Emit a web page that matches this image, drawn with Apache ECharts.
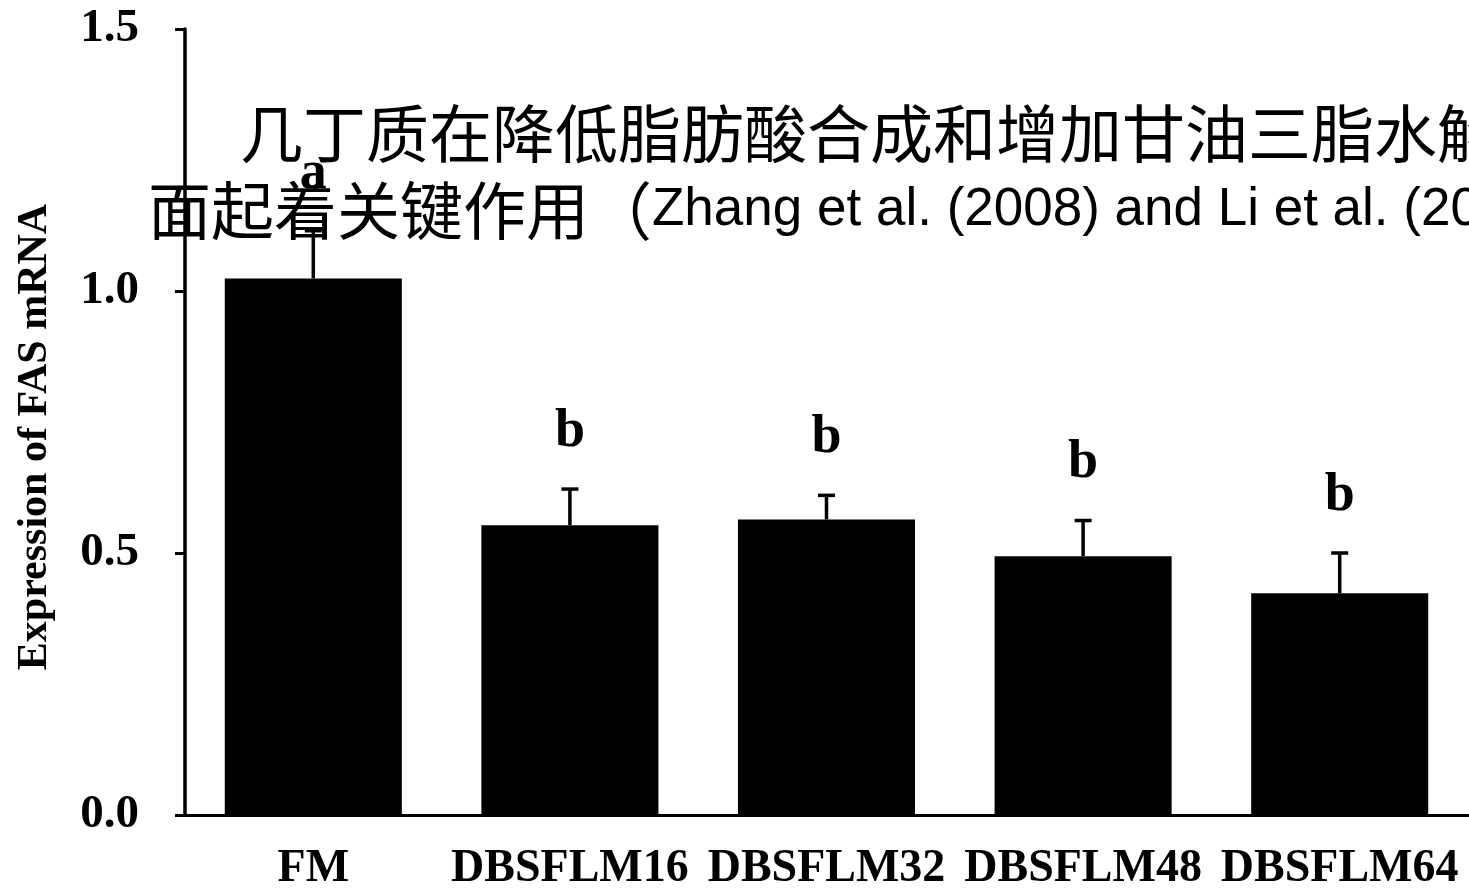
<!DOCTYPE html>
<html>
<head>
<meta charset="utf-8">
<script src="https://cdn.jsdelivr.net/npm/echarts@6/dist/echarts.min.js"></script>
<style>
  html, body { margin: 0; padding: 0; background: #fff; }
  #chart { width: 1469px; height: 889px; }
</style>
</head>
<body>
<div id="chart"></div>
<script>
const groups = ['FM', 'DBSFLM16', 'DBSFLM32', 'DBSFLM48', 'DBSFLM64'];
const means = [1.024, 0.553, 0.564, 0.494, 0.423];
const errTops = [1.115, 0.622, 0.610, 0.562, 0.500];
const letters = ['a', 'b', 'b', 'b', 'b'];
const yTicks = [0, 0.5, 1.0, 1.5];

const serif = '"Liberation Serif", "Times New Roman", serif';
const note1 = '几丁质在降低脂肪酸合成和增加甘油三脂水解方';
const note2zh = '面起着关键作用（';
const note2en = 'Zhang et al. (2008) and Li et al. (2020)）';

const chart = echarts.init(document.getElementById('chart'));

chart.setOption({
  backgroundColor: '#fff',
  animation: false,
  grid: { left: 185, right: 1, top: 29, bottom: 74, outerBoundsMode: 'none', containLabel: false },
  xAxis: {
    type: 'category',
    data: groups,
    axisLine: { lineStyle: { color: '#000', width: 3 } },
    axisTick: { length: 10, lineStyle: { color: '#000', width: 3 } },
    axisLabel: {
      interval: 0, hideOverlap: false,
      color: '#000', fontFamily: serif, fontWeight: 'bold', fontSize: 46, margin: 31
    },
    splitLine: { show: false }
  },
  yAxis: {
    type: 'value',
    min: yTicks[0],
    max: yTicks[yTicks.length - 1],
    interval: 0.5,
    axisLine: { show: true, lineStyle: { color: '#000', width: 3.5 } },
    axisTick: { show: true, length: 10, lineStyle: { color: '#000', width: 3 } },
    axisLabel: {
      color: '#000', fontFamily: serif, fontWeight: 'bold', fontSize: 47, margin: 46,
      formatter: (v) => v.toFixed(1)
    },
    splitLine: { show: false }
  },
  graphic: [
    {
      type: 'text',
      x: 35, y: 437, rotation: Math.PI / 2,
      style: {
        text: 'Expression of FAS mRNA',
        fill: '#000', font: 'bold 42px ' + serif,
        textAlign: 'center', textVerticalAlign: 'middle'
      }
    },
    {
      type: 'text', z: 100,
      x: 240, y: 133,
      style: {
        text: note1,
        fill: '#000', font: '63px "Noto Sans CJK SC"',
        textVerticalAlign: 'middle'
      }
    },
    {
      type: 'text', z: 100,
      x: 148, y: 210,
      style: {
        text: '{zh|' + note2zh + '}{en|' + note2en + '}',
        textVerticalAlign: 'middle',
        rich: {
          zh: { fontFamily: 'Noto Sans CJK SC', fontSize: 63, color: '#000' },
          en: { fontFamily: '"Liberation Sans", Arial, sans-serif', fontSize: 53, color: '#000' }
        }
      }
    }
  ],
  series: [
    {
      type: 'bar',
      data: means,
      barWidth: '69%',
      itemStyle: { color: '#000' }
    },
    {
      type: 'custom',
      data: groups.map((g, i) => [i, means[i], errTops[i]]),
      renderItem: (params, api) => {
        const i = api.value(0);
        const base = api.coord([i, api.value(1)]);
        const top = api.coord([i, api.value(2)]);
        const cap = 8.5;
        return {
          type: 'group',
          children: [
            { type: 'line', shape: { x1: base[0], y1: base[1], x2: top[0], y2: top[1] },
              style: { stroke: '#000', lineWidth: 3.5 } },
            { type: 'line', shape: { x1: top[0] - cap, y1: top[1], x2: top[0] + cap, y2: top[1] },
              style: { stroke: '#000', lineWidth: 3.5 } },
            { type: 'text', x: top[0], y: top[1] - 30,
              style: { text: letters[i], fill: '#000', font: 'bold 54px ' + serif,
                textAlign: 'center', textVerticalAlign: 'bottom' } }
          ]
        };
      }
    }
  ]
});
</script>
</body>
</html>
